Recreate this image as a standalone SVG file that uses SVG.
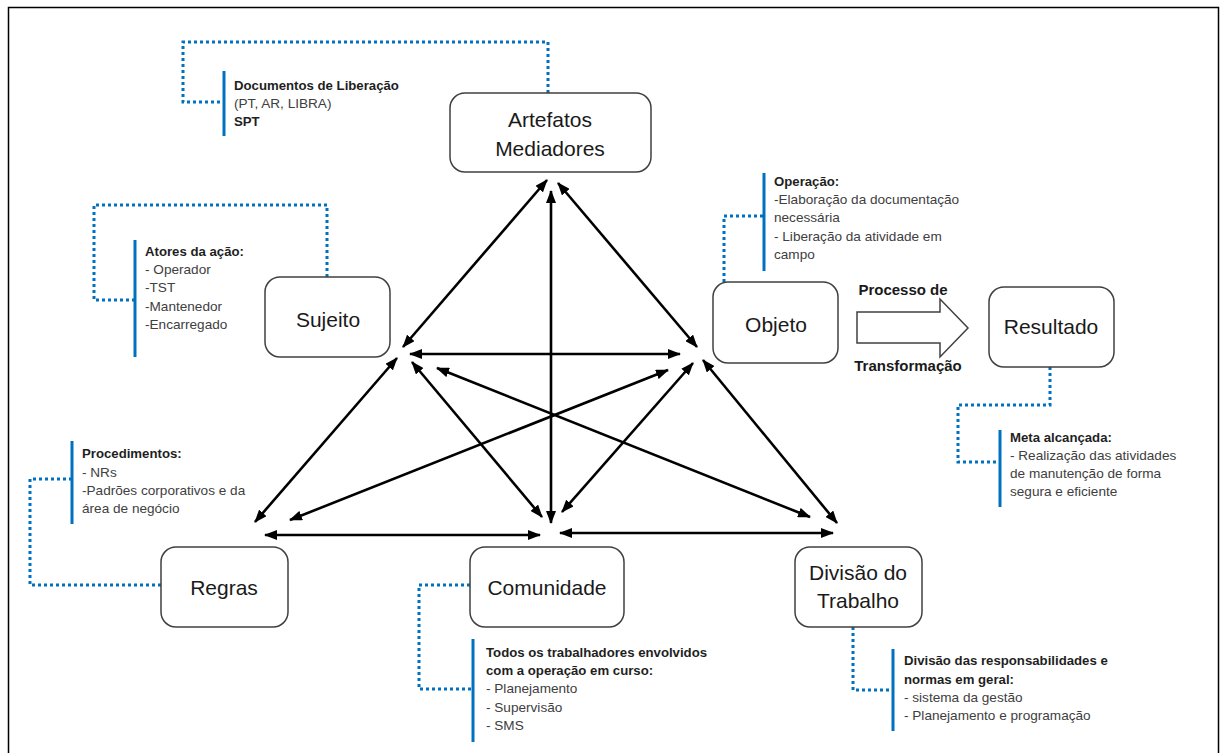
<svg xmlns="http://www.w3.org/2000/svg" width="1225" height="753" viewBox="0 0 1225 753">
<defs>
<marker id="ah" markerUnits="userSpaceOnUse" markerWidth="13" markerHeight="10" refX="12" refY="5" orient="auto-start-reverse">
<path d="M0,0 L13,5 L0,10 z" fill="#000"/>
</marker>
<style>
.node{fill:#fff;stroke:#404040;stroke-width:1.5}
.nt{font-family:"Liberation Sans",Arial,sans-serif;font-size:21px;fill:#1a1a1a;text-anchor:middle}
.ar{stroke:#000;stroke-width:2.6;fill:none;marker-start:url(#ah);marker-end:url(#ah)}
.dot{stroke:#0070C0;stroke-width:3;fill:none;stroke-dasharray:3 3}
.bar{stroke:#0070C0;stroke-width:3}
.at{font-family:"Liberation Sans",Arial,sans-serif;font-size:13.6px;fill:#404040}
.b{font-weight:bold;fill:#1f1f1f;font-size:13.2px}
.pt{font-family:"Liberation Sans",Arial,sans-serif;font-size:15px;font-weight:bold;fill:#1a1a1a;text-anchor:middle}
</style>
</defs>
<rect x="8.5" y="7.5" width="1210" height="770" fill="#fff" stroke="#000" stroke-width="1.5"/>

<g id="connectors">
<line class="ar" x1="547" y1="180" x2="403" y2="347"/>
<line class="ar" x1="551" y1="191" x2="551" y2="523"/>
<line class="ar" x1="410" y1="354" x2="680" y2="354"/>
<line class="ar" x1="397" y1="358" x2="255" y2="522"/>
<line class="ar" x1="412" y1="362" x2="542" y2="517"/>
<line class="ar" x1="437" y1="368" x2="810" y2="517"/>
<line class="ar" x1="290" y1="520" x2="668" y2="370"/>
<line class="ar" x1="265" y1="535" x2="540" y2="535"/>
<line class="ar" x1="560" y1="533" x2="833" y2="533"/>
<line class="ar" x1="562" y1="512" x2="693" y2="363"/>
<line class="ar" x1="558" y1="183" x2="697" y2="347"/>
<line class="ar" x1="703" y1="360" x2="837" y2="523"/>
<polyline class="dot" points="548,93 548,42 183,42 183,102 224,102"/>
<polyline class="dot" points="327,277 327,205 94,205 94,300 135,300"/>
<polyline class="dot" points="724,282 724,216 764,216"/>
<polyline class="dot" points="1050,367 1050,405 958,405 958,462 1000,462"/>
<polyline class="dot" points="161,585 30,585 30,479 72,479"/>
<polyline class="dot" points="470,585 419,585 419,689 473,689"/>
<polyline class="dot" points="853,627 853,690 893,690"/>
</g>

<g id="artefatos">
<rect class="node" x="450" y="93" width="201" height="79" rx="15"/>
<text class="nt" x="550" y="127">Artefatos</text>
<text class="nt" x="550" y="156">Mediadores</text>
</g>
<g id="sujeito">
<rect class="node" x="265" y="277" width="125" height="80" rx="15"/>
<text class="nt" x="328" y="327">Sujeito</text>
</g>
<g id="objeto">
<rect class="node" x="713" y="282" width="125" height="81" rx="15"/>
<text class="nt" x="776" y="332">Objeto</text>
</g>
<g id="resultado">
<rect class="node" x="989" y="287" width="125" height="80" rx="15"/>
<text class="nt" x="1051" y="334">Resultado</text>
</g>
<g id="regras">
<rect class="node" x="161" y="547" width="127" height="80" rx="15"/>
<text class="nt" x="224" y="595">Regras</text>
</g>
<g id="comunidade">
<rect class="node" x="470" y="547" width="154" height="80" rx="15"/>
<text class="nt" x="547" y="595">Comunidade</text>
</g>
<g id="divisao">
<rect class="node" x="795" y="547" width="127" height="80" rx="15"/>
<text class="nt" x="858" y="580">Divisão do</text>
<text class="nt" x="858" y="608">Trabalho</text>
</g>

<g id="processo">
<polygon points="857,312 940,312 940,299 968,328 940,357 940,343 857,343" fill="#fff" stroke="#404040" stroke-width="1.5"/>
<text class="pt" x="903" y="295">Processo de</text>
<text class="pt" x="908" y="371">Transformação</text>
</g>

<g id="nota-artefatos">
<line class="bar" x1="224" y1="71" x2="224" y2="136"/>
<text class="at" x="234" y="90"><tspan class="b">Documentos de Liberação</tspan><tspan x="234" y="108">(PT, AR, LIBRA)</tspan><tspan class="b" x="234" y="126">SPT</tspan></text>
</g>
<g id="nota-sujeito">
<line class="bar" x1="135" y1="240" x2="135" y2="357"/>
<text class="at" x="145" y="256"><tspan class="b">Atores da ação:</tspan><tspan x="145" y="274">- Operador</tspan><tspan x="145" y="292">-TST</tspan><tspan x="145" y="311">-Mantenedor</tspan><tspan x="145" y="329">-Encarregado</tspan></text>
</g>
<g id="nota-objeto">
<line class="bar" x1="764" y1="173" x2="764" y2="271"/>
<text class="at" x="774" y="186"><tspan class="b">Operação:</tspan><tspan x="774" y="204">-Elaboração da documentação</tspan><tspan x="774" y="222">necessária</tspan><tspan x="774" y="241">- Liberação da atividade em</tspan><tspan x="774" y="259">campo</tspan></text>
</g>
<g id="nota-resultado">
<line class="bar" x1="1000" y1="430" x2="1000" y2="507"/>
<text class="at" x="1010" y="442"><tspan class="b">Meta alcançada:</tspan><tspan x="1010" y="460">- Realização das atividades</tspan><tspan x="1010" y="478">de manutenção de forma</tspan><tspan x="1010" y="496">segura e eficiente</tspan></text>
</g>
<g id="nota-regras">
<line class="bar" x1="72" y1="441" x2="72" y2="524"/>
<text class="at" x="82" y="458"><tspan class="b">Procedimentos:</tspan><tspan x="82" y="477">- NRs</tspan><tspan x="82" y="495">-Padrões corporativos e da</tspan><tspan x="82" y="513">área de negócio</tspan></text>
</g>
<g id="nota-comunidade">
<line class="bar" x1="473" y1="639" x2="473" y2="742"/>
<text class="at" x="486" y="657"><tspan class="b">Todos os trabalhadores envolvidos</tspan><tspan class="b" x="486" y="675">com a operação em curso:</tspan><tspan x="486" y="693">- Planejamento</tspan><tspan x="486" y="712">- Supervisão</tspan><tspan x="486" y="730">- SMS</tspan></text>
</g>
<g id="nota-divisao">
<line class="bar" x1="893" y1="649" x2="893" y2="731"/>
<text class="at" x="904" y="665"><tspan class="b">Divisão das responsabilidades e</tspan><tspan class="b" x="904" y="684">normas em geral:</tspan><tspan x="904" y="702">- sistema da gestão</tspan><tspan x="904" y="720">- Planejamento e programação</tspan></text>
</g>
</svg>
